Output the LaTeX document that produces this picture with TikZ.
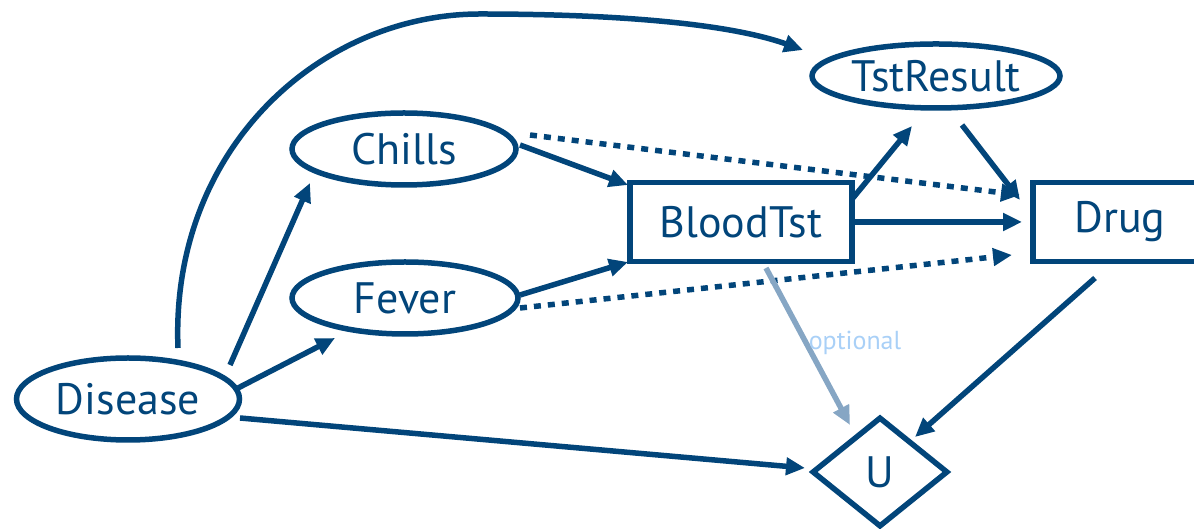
\documentclass[tikz,border=0pt]{standalone}
\usepackage{fontspec}
\setmainfont{PT Sans}
\usetikzlibrary{shapes.geometric,arrows.meta,calc}
\definecolor{navy}{HTML}{02457A}
\definecolor{optarr}{HTML}{86A6C4}
\definecolor{optlbl}{HTML}{A9D0F7}
\tikzset{
  ell/.style={ellipse,draw=navy,line width=5.5pt,inner sep=0pt,text=navy,font=\fontsize{44}{50}\selectfont},
  box/.style={rectangle,draw=navy,line width=5.5pt,inner sep=0pt,text=navy,font=\fontsize{44}{50}\selectfont},
  dia/.style={diamond,draw=navy,line width=5.5pt,inner sep=0pt,text=navy,font=\fontsize{44}{50}\selectfont},
  arr/.style={draw=navy,line width=5.5pt,-{Triangle[length=19pt,width=17pt]}},
  dotarr/.style={arr,dash pattern=on 7pt off 7pt},
  optarrow/.style={draw=optarr,line width=5.5pt,-{Triangle[length=19pt,width=17pt]}}
}
\begin{document}
\begin{tikzpicture}[x=1pt,y=1pt]
\useasboundingbox (0,0) rectangle (1194,529);
\node[ell,minimum width=223pt,minimum height=82pt] (Disease) at (128,130) {Disease};
\node[ell,minimum width=224pt,minimum height=72pt] (Chills) at (404,380) {Chills};
\node[ell,minimum width=226pt,minimum height=72pt] (Fever) at (405,231) {Fever};
\node[ell,minimum width=248pt,minimum height=64pt] (TstResult) at (936,453) {TstResult};
\node[box,minimum width=222pt,minimum height=79pt] (BloodTst) at (741,307) {BloodTst};
\node[box,minimum width=174pt,minimum height=79pt] (Drug) at (1120,307) {Drug};
\node[dia,minimum width=136pt,minimum height=110pt,aspect=1.24] (U) at (880,57) {U};

% Disease -> TstResult (big arc)
\coordinate (peak) at (480,515);
\draw[navy,line width=5.5pt] ([shift={(50,51)}]Disease.center) .. controls (170,380) and (320,515) .. (peak);
\draw[arr] (peak) .. controls (620,515) and (730,505) .. ([shift={(-133,26)}]TstResult.center);

\draw[arr] ([shift={(102,34)}]Disease.center) -- ([shift={(-94,-34)}]Chills.center);
\draw[arr] ([shift={(110,11)}]Disease.center) -- ([shift={(-70,-40)}]Fever.center);
\draw[arr] ([shift={(112,-19)}]Disease.center) -- ([shift={(-75,4)}]U.center);

\draw[arr] ([shift={(116,4)}]Chills.center) -- ([shift={(-113,37)}]BloodTst.center);
\draw[dotarr] ([shift={(126,14)}]Chills.center) -- ([shift={(-100,27)}]Drug.center);
\draw[arr] ([shift={(115,3)}]Fever.center) -- ([shift={(-113,-40)}]BloodTst.center);
\draw[dotarr] ([shift={(115,-10)}]Fever.center) -- ([shift={(-108,-33)}]Drug.center);

\draw[arr] ([shift={(112,24)}]BloodTst.center) -- ([shift={(-24,-50)}]TstResult.center);
\draw[arr] ([shift={(112,0)}]BloodTst.center) -- ([shift={(-98,0)}]Drug.center);
\draw[arr] ([shift={(26,-49)}]TstResult.center) -- ([shift={(-100,22)}]Drug.center);

\draw[optarrow] ([shift={(25,-46)}]BloodTst.center) -- ([shift={(-30,47)}]U.center);
\node[text=optlbl,font=\fontsize{26}{30}\selectfont,inner sep=0pt] (optlabel) at (855,186) {optional};

\draw[arr] ([shift={(-25,-56)}]Drug.center) -- ([shift={(35,35)}]U.center);
\end{tikzpicture}
\end{document}
